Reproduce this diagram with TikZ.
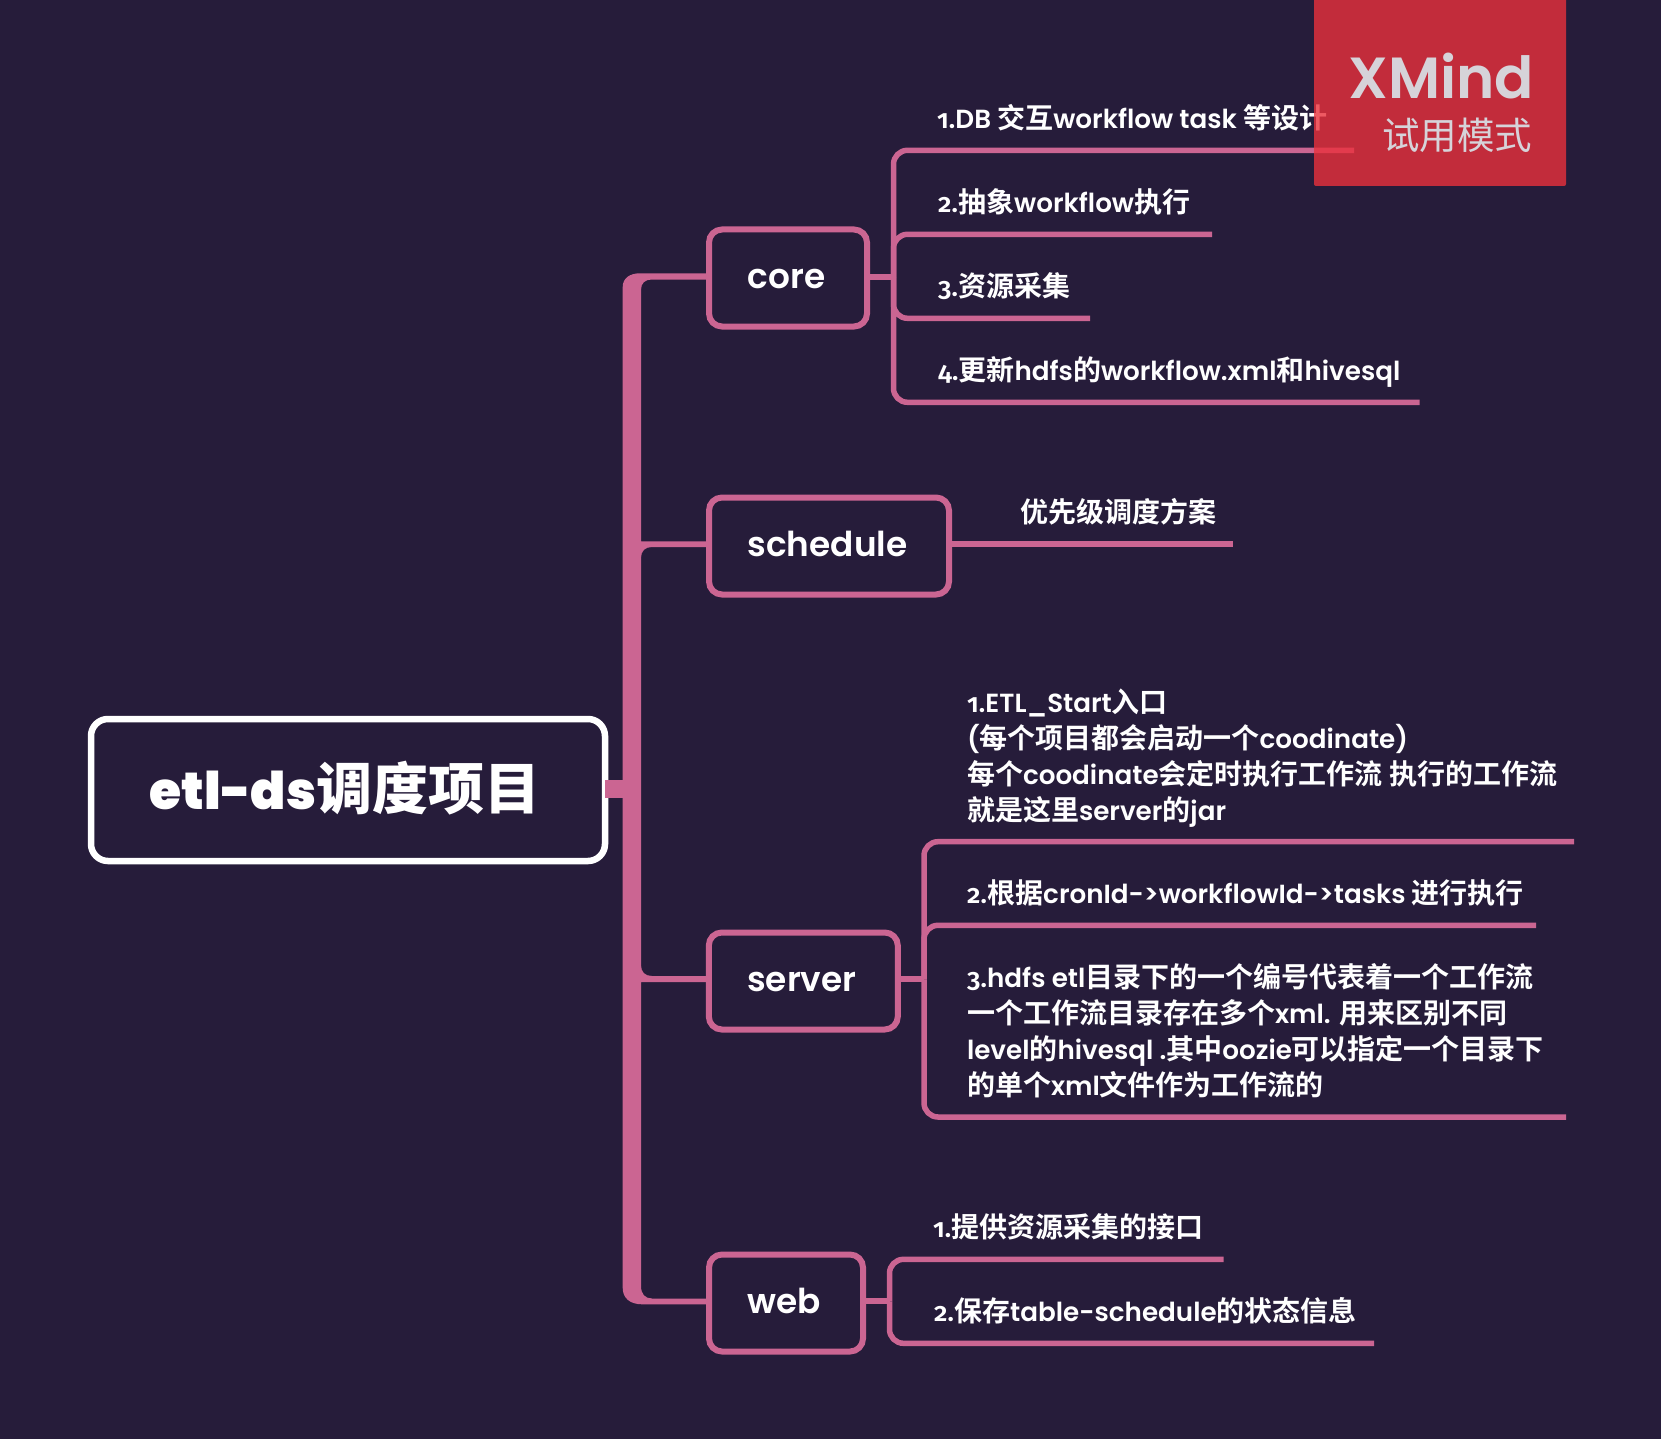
\documentclass[tikz,border=0pt]{standalone}
\usepackage{fontspec}
\setmainfont{Poppins SemiBold}
\newfontfamily\cjk{Noto Sans CJK SC Bold}
\newfontfamily\cjkreg{Noto Sans CJK SC}
\newfontfamily\cjkblack{Noto Sans CJK SC Black}
\newfontfamily\oldnum[Numbers=OldStyle]{Fira Sans SemiBold}
\newfontfamily\labf{Poppins SemiBold}
\newfontfamily\rootf{Poppins Black}
\newcommand{\C}[1]{{\cjk\fontsize{28}{36}\selectfont #1}}
\newcommand{\Nn}[1]{{\oldnum #1}}
\definecolor{bgc}{HTML}{261C3A}
\definecolor{pinkc}{HTML}{CB6592}
\definecolor{redc}{HTML}{EA313C}
\definecolor{markc}{HTML}{D6D3D9}
\tikzset{
  topic/.style={draw=pinkc,line width=6pt,rounded corners=13pt,fill=bgc,text=white,inner sep=0pt,outer sep=0pt,
    font=\labf\fontsize{34.3}{34}\selectfont,text height=20pt,text depth=0pt,minimum height=97pt},
  rootbox/.style={draw=white,line width=6.5pt,rounded corners=17pt,fill=bgc,text=white,inner sep=0pt,outer sep=0pt,
    font=\rootf\fontsize{52}{54}\selectfont,text height=38pt,text depth=0pt},
  leaf/.style={text=white,inner sep=0pt,outer sep=0pt,anchor=base west,align=left,yshift=-1pt,
    font=\fontsize{26.2}{36}\selectfont},
  subline/.style={draw=pinkc,line width=5.5pt,rounded corners=14pt},
  stub/.style={draw=pinkc,line width=6pt},
  bigstub/.style={draw=pinkc,line width=18pt},
  markt/.style={inner sep=0pt,anchor=base west,text=markc},
}
\begin{document}
\begin{tikzpicture}[x=1pt,y=-1pt]
\useasboundingbox (0,0) rectangle (1661,1439);
\fill[bgc] (0,0) rectangle (1661,1439);
% trunk
\fill[pinkc] (622.7,1288) -- (622.7,287) .. controls (622.7,278) and (630,273.3) .. (640,273.3)
  -- (706,273.3) -- (706,279.5) -- (652,279.5) .. controls (645,279.5) and (641,283) .. (641,290)
  -- (641,541.3) -- (706,541.3) -- (706,547) -- (652,547) .. controls (645,547) and (641,551) .. (641,558)
  -- (641,965) .. controls (641,972) and (645,976) .. (652,976) -- (706,976) -- (706,982) -- (641,982)
  -- (641,1286) .. controls (641,1294) and (645,1298.5) .. (652,1298.5) -- (706,1298.5) -- (706,1304.3)
  -- (642,1304.3) .. controls (630,1304.3) and (622.7,1298) .. (622.7,1288) -- cycle;
% nodes
\node[rootbox,minimum width=514pt,minimum height=142pt] (root) at (348,790) {etl-ds{\cjkblack\fontsize{56}{54}\selectfont 调度项目}\hspace*{6pt}};
\node[topic,minimum width=158pt] (core) at (788,278) {core\hspace*{3pt}};
\node[topic,minimum width=240pt] (schedule) at (829,546) {schedule\hspace*{3pt}};
\node[topic,minimum width=189pt] (server) at (803.3,981) {server\hspace*{3pt}};
\node[topic,minimum width=154pt] (web) at (786,1303) {web\hspace*{3pt}};
% junctions
\coordinate (rootJ) at (622.7,788.8);
\coordinate (coreS) at (893.5,277);
\coordinate (serverS) at (924,979.3);
\coordinate (webS) at (889.5,1301.3);
\coordinate (c1e) at (1354,150.3);
\coordinate (c2e) at (1212,234.3);
\coordinate (c3e) at (1090,318.3);
\coordinate (c4e) at (1419.5,402.3);
\coordinate (s1e) at (1233,544);
\coordinate (v1e) at (1574,841.7);
\coordinate (v2e) at (1536,925.3);
\coordinate (v3e) at (1566,1117);
\coordinate (w1e) at (1223.5,1259.3);
\coordinate (w2e) at (1374,1343.3);
% connectors
\draw[bigstub] (root.east|-rootJ) -- (rootJ);
\draw[stub] (core.east|-coreS) -- (coreS);
\draw[subline] (coreS) |- (c1e);
\draw[subline] (coreS) |- (c2e);
\draw[subline] (coreS) |- (c3e);
\draw[subline] (coreS) |- (c4e);
\draw[stub] (schedule.east|-s1e) -- (s1e);
\draw[stub] (server.east|-serverS) -- (serverS);
\draw[subline] (serverS) |- (v1e);
\draw[subline] (serverS) |- (v2e);
\draw[subline] (serverS) |- (v3e);
\draw[stub] (web.east|-webS) -- (webS);
\draw[subline] (webS) |- (w1e);
\draw[subline] (webS) |- (w2e);
% leaves
\node[leaf] (c1) at (937,127.7) {\Nn{1}.DB \C{交互}workflow task \C{等设计}};
\node[leaf] (c2) at (938,211.7) {\Nn{2}.\C{抽象}workflow\C{执行}};
\node[leaf] (c3) at (938,295.7) {\Nn{3}.\C{资源采集}};
\node[leaf] (c4) at (938,379.7) {\Nn{4}.\C{更新}hdfs\C{的}workflow.xml\C{和}hivesql};
\node[leaf] (s1) at (1020,521) {\C{优先级调度方案}};
\node[leaf] (v1) at (967,819) {\Nn{1}.ETL\_Start\C{入口}\\(\C{每个项目都会启动一个}coodinate)\\\C{每个}coodinate\C{会定时执行工作流 执行的工作流}\\\C{就是这里}server\C{的}jar};
\node[leaf] (v2) at (967,902) {\Nn{2}.\C{根据}cronId->workflowId->tasks \C{进行执行}};
\node[leaf] (v3) at (967,1094) {\Nn{3}.hdfs etl\C{目录下的一个编号代表着一个工作流}\\\C{一个工作流目录存在多个}xml. \C{用来区别不同}\\level\C{的}hivesql .\C{其中}oozie\C{可以指定一个目录下}\\\C{的单个}xml\C{文件作为工作流的}};
\node[leaf] (w1) at (933,1236) {\Nn{1}.\C{提供资源采集的接口}};
\node[leaf] (w2) at (934,1320) {\Nn{2}.\C{保存}table-schedule\C{的状态信息}};
% watermark
\fill[redc,opacity=0.8,rounded corners=2pt] (1314,-5) rectangle (1566,186);
\node[markt,font=\labf\fontsize{58}{58}\selectfont] (xm) at (1348,99) {XMind};
\node[markt,font=\cjkreg\fontsize{37.5}{38}\selectfont] (try) at (1382,150) {试用模式};
\end{tikzpicture}
\end{document}
